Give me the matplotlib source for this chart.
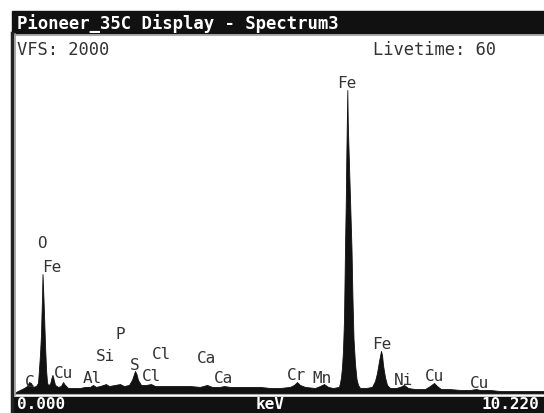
import matplotlib
matplotlib.use("Agg")
import matplotlib.pyplot as plt
from matplotlib.patches import Rectangle

# spectrum outline (keV, counts)
energy = [0.000, 0.077, 0.155, 0.213, 0.252, 0.290, 0.329, 0.387, 0.426, 0.445,
          0.465, 0.484, 0.494, 0.503, 0.513, 0.532, 0.542, 0.561, 0.581, 0.600,
          0.619, 0.658, 0.687, 0.706, 0.726, 0.755, 0.813, 0.871, 0.910, 0.948,
          1.006, 1.142, 1.239, 1.336, 1.432, 1.490, 1.548, 1.626, 1.742, 1.800,
          1.916, 2.013, 2.090, 2.187, 2.245, 2.284, 2.303, 2.332, 2.361, 2.420,
          2.516, 2.613, 2.690, 2.787, 2.981, 3.174, 3.368, 3.561, 3.697, 3.794,
          3.949, 4.026, 4.142, 4.336, 4.529, 4.723, 4.916, 5.110, 5.303, 5.381,
          5.439, 5.497, 5.594, 5.788, 5.884, 5.962, 6.039, 6.136, 6.252, 6.271,
          6.291, 6.310, 6.329, 6.349, 6.368, 6.384, 6.393, 6.403, 6.413, 6.422,
          6.442, 6.465, 6.494, 6.513, 6.533, 6.562, 6.591, 6.620, 6.659, 6.775,
          6.891, 6.949, 6.988, 7.027, 7.065, 7.085, 7.104, 7.142, 7.181, 7.239,
          7.355, 7.433, 7.510, 7.588, 7.723, 7.917, 8.013, 8.091, 8.149, 8.226,
          8.400, 8.594, 8.788, 8.904, 8.981, 9.175, 9.368, 9.562, 9.755, 10.220]
counts = [6, 17, 28, 39, 61, 56, 34, 39, 56, 134,
          218, 330, 441, 525, 665, 525, 441, 274, 134, 61,
          45, 50, 84, 101, 78, 45, 34, 39, 61, 45,
          28, 28, 28, 34, 34, 45, 34, 39, 50, 39,
          45, 50, 39, 45, 73, 106, 123, 106, 73, 45,
          45, 50, 39, 39, 39, 39, 39, 34, 45, 34,
          34, 39, 34, 34, 34, 34, 28, 28, 34, 45,
          61, 45, 34, 28, 39, 50, 34, 28, 34, 56,
          89, 145, 235, 413, 805, 1084, 1307, 1503, 1693, 1503,
          1307, 1084, 805, 525, 302, 162, 78, 45, 28, 28,
          34, 67, 112, 179, 235, 212, 156, 89, 45, 28,
          28, 34, 45, 28, 22, 22, 39, 56, 39, 22,
          22, 17, 17, 22, 17, 17, 11, 11, 11, 11]

# element labels (text, keV, counts)
peak_names = ["O", "Fe", "Fe", "C", "Cu", "Al", "Si", "P", "S", "Cl", "Cl",
              "Ca", "Ca", "Cr", "Mn", "Fe", "Ni", "Cu", "Cu"]
peak_kev = [0.503, 0.697, 6.407, 0.271, 0.910, 1.471, 1.742, 2.013, 2.303, 2.807,
            2.632, 3.697, 4.026, 5.420, 5.923, 7.084, 7.510, 8.091, 8.962]
peak_cts = [838, 704, 1732, 67, 117, 84, 207, 335, 162, 218,
            95, 201, 84, 101, 84, 279, 78, 95, 56]

vfs = 2000
kev_max = 10.220
mono = "DejaVu Sans Mono"

fig = plt.figure(figsize=(5.44, 4.14), dpi=100)
fig.patch.set_facecolor("white")

# screen frame in pixel units
bg = fig.add_axes([0, 0, 1, 1])
bg.set_xlim(0, 544)
bg.set_ylim(414, 0)
bg.axis("off")
bg.add_patch(Rectangle((12, 12), 532, 22, color="#111111"))
bg.add_patch(Rectangle((12, 398), 532, 16, color="#111111"))
bg.plot([12, 544], [35.5, 35.5], color="#999999", lw=1.2)
bg.plot([12, 12], [34, 414], color="#222222", lw=2.5)
bg.plot([15.2, 15.2], [35, 396], color="#999999", lw=1.2)
bg.plot([15, 544], [395.5, 395.5], color="#999999", lw=1.2)

bg.text(17, 23.5, "Pioneer_35C Display - Spectrum3", color="white",
        fontsize=12.4, fontweight="bold", family=mono, va="center", ha="left")
bg.text(17, 50, "VFS: 2000", color="#333333", fontsize=12.3,
        family=mono, va="center", ha="left")
bg.text(373, 50, "Livetime: 60", color="#333333", fontsize=12.3,
        family=mono, va="center", ha="left")
bg.text(17, 405, "0.000", color="white", fontsize=11.5, fontweight="bold",
        family=mono, va="center", ha="left")
bg.text(270, 405, "keV", color="white", fontsize=11.5, fontweight="bold",
        family=mono, va="center", ha="center")
bg.text(539, 405, "10.220", color="white", fontsize=11.5, fontweight="bold",
        family=mono, va="center", ha="right")

# spectrum
ax = fig.add_axes([16 / 544, 20 / 414, 528 / 544, 358 / 414])
ax.patch.set_alpha(0)
ax.fill_between(energy, counts, 0, color="#111111", lw=0.6)
ax.set_xlim(0, kev_max)
ax.set_ylim(0, vfs)
ax.axis("off")

for name, k, c in zip(peak_names, peak_kev, peak_cts):
    ax.text(k, c, name, color="#333333", fontsize=11.5, family=mono,
            ha="center", va="center")

fig.savefig("out.png", dpi=100)
